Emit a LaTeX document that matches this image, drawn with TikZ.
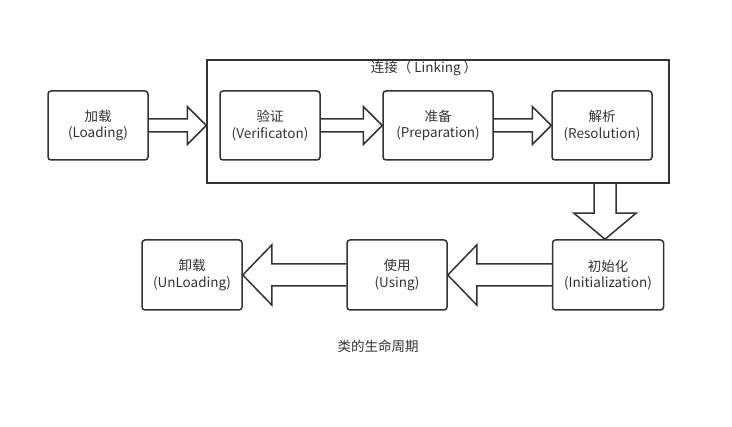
\documentclass[tikz,border=0pt]{standalone}
\usepackage{fontspec}
\setmainfont{Noto Sans CJK SC}
\usepackage{tikz}
\usetikzlibrary{calc,positioning}
\definecolor{line}{HTML}{333333}
% right or left block arrow: from, to, shaft half, head half, head length
\newcommand{\harrow}[5]{%
  \draw[blockarrow] let \p1=(#1), \p2=(#2) in
    (\x1,\y1+#3) -- (\x2-#5,\y1+#3) -- (\x2-#5,\y1+#4) -- (\x2,\y1)
    -- (\x2-#5,\y1-#4) -- (\x2-#5,\y1-#3) -- (\x1,\y1-#3);}
% downward block arrow
\newcommand{\varrow}[5]{%
  \draw[blockarrow] let \p1=(#1), \p2=(#2) in
    (\x2+#3,\y1) -- (\x2+#3,\y2+#5) -- (\x2+#4,\y2+#5) -- (\x2,\y2)
    -- (\x2-#4,\y2+#5) -- (\x2-#3,\y2+#5) -- (\x2-#3,\y1);}

\begin{document}
\begin{tikzpicture}[
        x=1pt, y=-1pt,
        font=\fontsize{13.5}{16.5}\selectfont, text=line,
        box/.style={draw=line, line width=1.5pt, rounded corners=3pt, align=center, minimum width=100pt, minimum height=69pt, inner sep=0pt},
        group/.style={draw=line, line width=1.5pt, minimum width=462pt, minimum height=123pt, inner sep=0pt},
        blockarrow/.style={draw=line, line width=1.5pt, line join=miter}
      ]
        \useasboundingbox (0,0) rectangle (732,427);
        \node[group] (link) at (438,121.5) {};
        \node (linklabel) at (424,68.5) {连接（ Linking ）};
        \node[box] (load) at (98,125.5) {加载\\(Loading)};
        \node[box] (verify) at (270,125.5) {验证\\(Verificaton)};
        \node[box, minimum width=110pt] (prep) at (438,125.5) {准备\\(Preparation)};
        \node[box] (resolve) at (602,125.5) {解析\\(Resolution)};
        \node[box, minimum width=111pt, minimum height=70pt] (init) at (608,275) {初始化\\(Initialization)};
        \node[box, minimum height=70pt] (using) at (397,275) {使用\\(Using)};
        \node[box, minimum height=70pt] (unload) at (192,275) {卸载\\(UnLoading)};
        \node (caption) at (378,346) {类的生命周期};

        \harrow{load.east}{link.west}{6.5pt}{19pt}{19pt}
        \harrow{verify.east}{prep.west}{6.5pt}{19pt}{19pt}
        \harrow{prep.east}{resolve.west}{6.5pt}{19pt}{19pt}
        \varrow{$(init.north |- link.south)+(-3,0)$}{$(init.north)+(-3,0)$}{11pt}{31pt}{26pt}
        \harrow{init.west}{using.east}{11pt}{30pt}{-29pt}
        \harrow{using.west}{unload.east}{11pt}{30pt}{-29pt}
      \end{tikzpicture}
\end{document}
